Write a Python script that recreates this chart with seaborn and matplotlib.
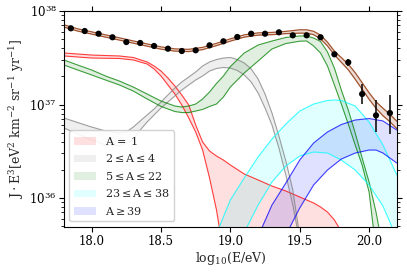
import numpy as np
import matplotlib
matplotlib.use('Agg')
import matplotlib.pyplot as plt
import seaborn as sns

# all y values are log10(J E^3)

# measured flux
data_x = [17.85, 17.95, 18.05, 18.15, 18.25, 18.35, 18.45, 18.55, 18.65, 18.75,
          18.85, 18.95, 19.05, 19.15, 19.25, 19.35, 19.45, 19.55, 19.65, 19.75,
          19.85, 19.95, 20.05, 20.15]
data_log = [37.815, 37.786, 37.757, 37.719, 37.668, 37.658, 37.626, 37.597, 37.572, 37.580,
            37.633, 37.676, 37.722, 37.757, 37.757, 37.772, 37.740, 37.740, 37.719, 37.537,
            37.451, 37.112, 36.884, 36.909]
err_x = [19.75, 19.85, 19.95, 20.05, 20.15]
err_lo_log = [37.522, 37.415, 37.005, 36.709, 36.681]
err_hi_log = [37.552, 37.483, 37.216, 37.045, 37.105]

# total fit band
tot_x = [17.8, 17.9, 18.0, 18.1, 18.2, 18.3, 18.4, 18.5, 18.6, 18.7, 18.8, 18.9, 19.0, 19.1,
         19.2, 19.3, 19.4, 19.5, 19.55, 19.6, 19.65, 19.7, 19.75, 19.8, 19.85, 19.9, 19.95,
         20.0, 20.05, 20.1, 20.15, 20.2]
tot_hi = [37.852, 37.809, 37.777, 37.745, 37.713, 37.680, 37.648, 37.616, 37.595, 37.590,
          37.611, 37.654, 37.702, 37.745, 37.766, 37.771, 37.782, 37.799, 37.799, 37.783,
          37.742, 37.667, 37.571, 37.501, 37.431, 37.340, 37.233, 37.126, 37.030, 36.960,
          36.896, 36.821]
tot_lo = [37.828, 37.785, 37.753, 37.721, 37.689, 37.656, 37.624, 37.592, 37.571, 37.566,
          37.587, 37.630, 37.678, 37.721, 37.742, 37.747, 37.758, 37.763, 37.763, 37.747,
          37.702, 37.627, 37.531, 37.451, 37.371, 37.270, 37.163, 37.056, 36.960, 36.880,
          36.816, 36.741]

# A = 1
p_hi_x = [17.8, 18.0, 18.2, 18.3, 18.4, 18.45, 18.5, 18.55, 18.6, 18.65, 18.7, 18.75, 18.8,
          18.85, 18.9, 18.95, 19.0, 19.1, 19.2, 19.3, 19.4, 19.5, 19.6, 19.65, 19.7, 19.75,
          19.78, 19.8]
p_hi = [37.551, 37.529, 37.519, 37.503, 37.455, 37.412, 37.358, 37.283, 37.198, 37.102,
        36.995, 36.781, 36.599, 36.503, 36.449, 36.406, 36.353, 36.257, 36.193, 36.128,
        36.075, 36.011, 35.947, 35.904, 35.850, 35.765, 35.690, 35.615]
p_lo_x = [17.8, 18.0, 18.2, 18.3, 18.4, 18.45, 18.5, 18.55, 18.6, 18.65, 18.7, 18.75, 18.8,
          18.85, 18.9, 18.92, 18.95]
p_lo = [37.519, 37.497, 37.492, 37.476, 37.433, 37.380, 37.305, 37.209, 37.112, 36.995,
        36.856, 36.706, 36.513, 36.214, 35.872, 35.690, 35.444]

# 2 <= A <= 4
he_hi_x = [17.8, 17.9, 18.0, 18.1, 18.2, 18.25, 18.3, 18.35, 18.4, 18.45, 18.5, 18.55, 18.6,
           18.65, 18.7, 18.75, 18.8, 18.85, 18.9, 18.95, 19.0, 19.05, 19.1, 19.15, 19.2,
           19.25, 19.3, 19.35, 19.4, 19.45, 19.49, 19.52]
he_hi = [36.856, 36.807, 36.759, 36.717, 36.695, 36.706, 36.759, 36.824, 36.888, 36.952,
         37.027, 37.102, 37.176, 37.241, 37.294, 37.348, 37.412, 37.455, 37.481, 37.497,
         37.503, 37.481, 37.444, 37.380, 37.273, 37.112, 36.909, 36.663, 36.396, 36.086,
         35.690, 35.444]
he_lo_x = [17.8, 17.9, 18.0, 18.1, 18.2, 18.3, 18.35, 18.4, 18.45, 18.5, 18.55, 18.6, 18.65,
           18.7, 18.75, 18.8, 18.85, 18.9, 18.95, 19.0, 19.05, 19.1, 19.15, 19.2, 19.25,
           19.3, 19.35, 19.4, 19.45, 19.48, 19.5]
he_lo = [36.749, 36.685, 36.620, 36.567, 36.556, 36.620, 36.727, 36.813, 36.888, 36.963,
         37.027, 37.091, 37.155, 37.209, 37.262, 37.305, 37.358, 37.385, 37.396, 37.390,
         37.364, 37.316, 37.241, 37.123, 36.963, 36.781, 36.535, 36.246, 35.925, 35.690,
         35.497]

# 5 <= A <= 22
cno_hi_x = [17.8, 17.9, 18.0, 18.1, 18.2, 18.3, 18.4, 18.5, 18.6, 18.65, 18.7, 18.75, 18.8,
            18.85, 18.9, 18.95, 19.0, 19.1, 19.2, 19.3, 19.4, 19.5, 19.55, 19.6, 19.65, 19.7,
            19.75, 19.8, 19.85, 19.9, 19.95, 20.0, 20.05, 20.07, 20.1]
cno_hi = [37.476, 37.422, 37.369, 37.305, 37.251, 37.187, 37.112, 37.037, 36.984, 36.973,
          36.984, 37.005, 37.059, 37.134, 37.225, 37.305, 37.406, 37.551, 37.636, 37.679,
          37.717, 37.733, 37.733, 37.711, 37.674, 37.562, 37.390, 37.155, 36.941, 36.695,
          36.428, 36.171, 35.850, 35.690, 35.444]
cno_lo_x = [17.8, 17.9, 18.0, 18.1, 18.2, 18.3, 18.4, 18.5, 18.6, 18.65, 18.7, 18.75, 18.8,
            18.85, 18.9, 18.95, 19.0, 19.1, 19.2, 19.3, 19.4, 19.5, 19.55, 19.6, 19.65, 19.7,
            19.75, 19.8, 19.85, 19.9, 19.95, 20.0, 20.03, 20.05]
cno_lo = [37.422, 37.369, 37.316, 37.262, 37.209, 37.144, 37.059, 36.979, 36.925, 36.914,
          36.914, 36.930, 36.947, 36.979, 37.005, 37.080, 37.187, 37.337, 37.465, 37.594,
          37.652, 37.677, 37.679, 37.626, 37.551, 37.412, 37.209, 37.005, 36.791, 36.567,
          36.353, 36.064, 35.690, 35.551]

# 23 <= A <= 38
si_hi_x = [18.88, 18.92, 19.0, 19.1, 19.2, 19.3, 19.4, 19.5, 19.6, 19.7, 19.75, 19.8, 19.9,
           20.0, 20.1, 20.2]
si_hi = [35.551, 35.690, 35.979, 36.214, 36.439, 36.631, 36.791, 36.930, 37.005, 37.043,
         37.048, 37.043, 36.984, 36.813, 36.567, 36.246]
si_lo_x = [19.08, 19.12, 19.2, 19.3, 19.4, 19.5, 19.6, 19.7, 19.8, 19.9, 20.0, 20.1, 20.15, 20.2]
si_lo = [35.551, 35.690, 35.925, 36.171, 36.342, 36.449, 36.492, 36.481, 36.406, 36.299,
         36.139, 35.914, 35.743, 35.551]

# A >= 39
fe_hi_x = [19.2, 19.23, 19.3, 19.4, 19.5, 19.6, 19.7, 19.8, 19.9, 20.0, 20.1, 20.2]
fe_hi = [35.551, 35.690, 35.925, 36.160, 36.406, 36.588, 36.706, 36.786, 36.834, 36.850,
         36.824, 36.727]
fe_lo_x = [19.4, 19.43, 19.5, 19.6, 19.7, 19.8, 19.9, 20.0, 20.05, 20.1, 20.2]
fe_lo = [35.551, 35.690, 35.893, 36.139, 36.299, 36.417, 36.481, 36.513, 36.513, 36.481, 36.374]

groups = [
    ('red', r'$\mathrm{A}\,=\,1$', p_hi_x, p_hi, p_lo_x, p_lo),
    ('gray', r'$2\leq\mathrm{A}\leq 4$', he_hi_x, he_hi, he_lo_x, he_lo),
    ('green', r'$5\leq\mathrm{A}\leq 22$', cno_hi_x, cno_hi, cno_lo_x, cno_lo),
    ('cyan', r'$23\leq\mathrm{A}\leq 38$', si_hi_x, si_hi, si_lo_x, si_lo),
    ('blue', r'$\mathrm{A}\geq 39$', fe_hi_x, fe_hi, fe_lo_x, fe_lo),
]

sns.set_theme(style='ticks')
plt.rcParams['font.family'] = ['DejaVu Serif']
plt.rcParams['mathtext.fontset'] = 'dejavuserif'

fig = plt.figure(figsize=(4.07, 2.73), dpi=100)
ax = fig.add_axes([0.157, 0.1685, 0.818, 0.7912])

for color, label, xh, yh, xl, yl in groups:
    xs = np.r_[xh, xl[::-1]]
    ys = 10 ** np.r_[yh, yl[::-1]]
    ax.fill(xs, ys, color=color, alpha=0.12, lw=0, label=label)
    sns.lineplot(x=xh, y=10 ** np.array(yh), color=color, lw=0.8, alpha=0.75, ax=ax)
    sns.lineplot(x=xl, y=10 ** np.array(yl), color=color, lw=0.8, alpha=0.75, ax=ax)

# total
ax.fill_between(tot_x, 10 ** np.array(tot_lo), 10 ** np.array(tot_hi),
                color='sienna', alpha=0.2, lw=0)
sns.lineplot(x=tot_x, y=10 ** np.array(tot_hi), color='sienna', lw=0.9, ax=ax)
sns.lineplot(x=tot_x, y=10 ** np.array(tot_lo), color='sienna', lw=0.9, ax=ax)

# data
ey = 10 ** np.array(data_log[-5:])
ax.errorbar(err_x, ey,
            yerr=[ey - 10 ** np.array(err_lo_log), 10 ** np.array(err_hi_log) - ey],
            fmt='none', ecolor='black', elinewidth=1.1, zorder=5)
sns.scatterplot(x=data_x, y=10 ** np.array(data_log), color='black', s=20,
                edgecolor='none', zorder=6, ax=ax)

ax.set_yscale('log')
ax.set_xlim(17.8, 20.2)
ax.set_ylim(10 ** 35.69, 1e38)
ax.set_xticks([18.0, 18.5, 19.0, 19.5, 20.0])

ax.set_xlabel(r'$\mathrm{log_{10}(E/eV)}$', fontsize=9, labelpad=2)
ax.set_ylabel(r'$\mathrm{J\cdot E^3[eV^2\ km^{-2}\ sr^{-1}\ yr^{-1}]}$', fontsize=9, labelpad=2)

for s in ax.spines.values():
    s.set_color('black')
    s.set_linewidth(0.8)
ax.tick_params(which='both', direction='out', top=True, right=True,
               labeltop=False, labelright=False, colors='black', labelsize=8.5)
ax.tick_params(which='major', length=3.5, width=0.8, pad=2)
ax.tick_params(which='minor', length=2, width=0.6)

ax.legend(loc='lower left', fontsize=8, frameon=True, fancybox=True,
          edgecolor='#cccccc', framealpha=0.9, borderpad=0.4, handlelength=2.0)

fig.savefig('out.png', dpi=100)
